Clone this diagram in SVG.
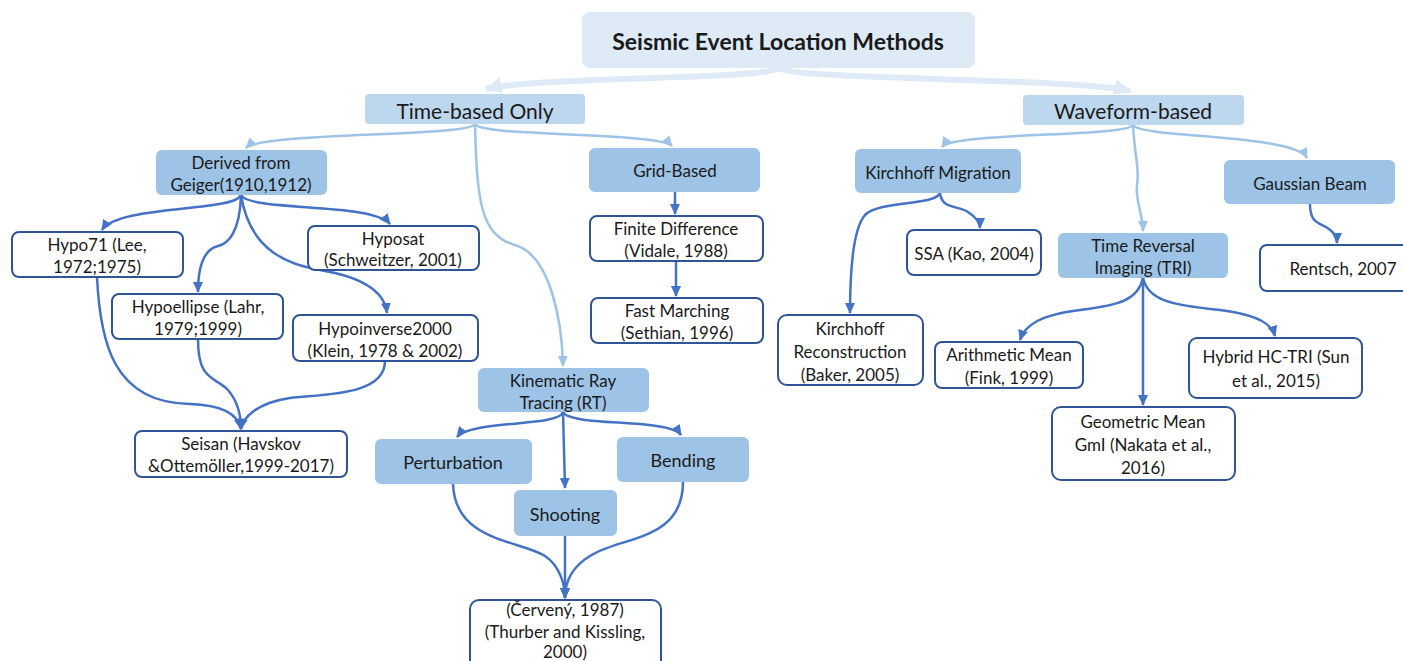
<svg xmlns="http://www.w3.org/2000/svg" width="1403" height="661" viewBox="0 0 1403 661">
<defs>
<style>
text{font-family:Lato,"Open Sans","Liberation Sans",sans-serif;fill:#1a1a1a;text-anchor:middle;dominant-baseline:central;font-size:17px}
.t1{font-size:23px;font-weight:bold}
.t2{font-size:21px}
.t3{font-size:18px}
.top{fill:#deebf7}
.l1{fill:#bdd7ee}
.l2{fill:#9dc3e6}
.w{fill:#fff;stroke:#2f5597;stroke-width:2}
.cd{fill:none;stroke:#4472c4;stroke-width:2.5;marker-end:url(#ad)}
.cl{fill:none;stroke:#9dc3e6;stroke-width:2.5;marker-end:url(#al)}
.ct{fill:none;stroke:#deebf7;stroke-width:6;marker-end:url(#at)}
</style>
<marker id="ad" markerUnits="userSpaceOnUse" markerWidth="12" markerHeight="12" viewBox="0 0 12 12" refX="10" refY="6" orient="auto"><path d="M0,1 L11,6 L0,11 z" fill="#4472c4"/></marker>
<marker id="al" markerUnits="userSpaceOnUse" markerWidth="12" markerHeight="12" viewBox="0 0 12 12" refX="10" refY="6" orient="auto"><path d="M0,1 L11,6 L0,11 z" fill="#9dc3e6"/></marker>
<marker id="at" markerUnits="userSpaceOnUse" markerWidth="20" markerHeight="20" viewBox="0 0 20 20" refX="16" refY="10" orient="auto"><path d="M0,2 L18,10 L0,18 z" fill="#deebf7"/></marker>
</defs>
<g id="connectors">
<path class="ct" d="M778,68 C770,80 540,76 486,89"/>
<path class="ct" d="M778,68 C790,80 1080,78 1130,91"/>
<path class="cl" d="M475,124 C470,137 262,132 246,148"/>
<path class="cl" d="M475,124 C480,137 660,132 672,146"/>
<path class="cl" d="M475,124 C477,200 480,235 515,245 C550,255 562,320 563,366"/>
<path class="cl" d="M1133,125 C1128,137 952,132 942,147"/>
<path class="cl" d="M1133,125 C1135,160 1140,170 1137,185 C1135,200 1143,215 1143,231"/>
<path class="cl" d="M1133,125 C1140,138 1295,134 1307,158"/>
<path class="cd" d="M241,195 C235,212 118,205 102,230"/>
<path class="cd" d="M241,195 C250,212 372,202 390,224"/>
<path class="cd" d="M241,195 C240,232 228,244 218,246 C202,250 198,270 198,292"/>
<path class="cd" d="M241,195 C250,252 290,265 320,270 C368,278 385,295 387,313"/>
<path class="cd" d="M97,277 C100,340 112,403 190,404 C225,405 238,415 241,429"/>
<path class="cd" d="M198,339 C198,382 215,376 228,390 C239,403 241,418 241,429"/>
<path class="cd" d="M385,361 C385,396 322,394 290,398 C256,403 243,418 241,429"/>
<path class="cd" d="M675,192 L675,214"/>
<path class="cd" d="M676,261 L676,296"/>
<path class="cd" d="M563,412 C560,427 470,420 457,437"/>
<path class="cd" d="M563,412 C570,427 670,418 681,435"/>
<path class="cd" d="M563,412 L565,488"/>
<path class="cd" d="M453,484 C455,542 520,540 545,556 C560,566 565,585 565,598"/>
<path class="cd" d="M565,536 L565,598"/>
<path class="cd" d="M683,482 C683,542 620,536 590,556 C570,568 565,585 565,598"/>
<path class="cd" d="M940,193 C942,210 958,205 968,212 C977,218 980,224 980,228"/>
<path class="cd" d="M940,193 C935,206 880,200 865,215 C852,230 850,280 850,313"/>
<path class="cd" d="M1143,278 C1138,300 1120,305 1080,310 C1040,315 1025,325 1020,340"/>
<path class="cd" d="M1143,278 L1143,405"/>
<path class="cd" d="M1143,278 C1148,300 1170,305 1220,310 C1260,315 1272,325 1275,336"/>
<path class="cd" d="M1310,204 C1310,220 1316,222 1324,226 C1334,231 1337,237 1337,243"/>
</g>
<g id="n-title"><rect class="top" x="582" y="12" width="393" height="56" rx="8"/><text class="t1" x="778" y="41">Seismic Event Location Methods</text></g>
<g id="n-time"><rect class="l1" x="365" y="94" width="220" height="30" rx="4"/><text class="t2" x="475" y="110">Time-based Only</text></g>
<g id="n-wave"><rect class="l1" x="1023" y="95" width="221" height="30" rx="4"/><text class="t2" x="1133" y="110">Waveform-based</text></g>
<g id="n-derived"><rect class="l2" x="156" y="150" width="171" height="45" rx="6"/><text x="241" y="162">Derived from</text><text x="241" y="184">Geiger(1910,1912)</text></g>
<g id="n-grid"><rect class="l2" x="589" y="148" width="171" height="44" rx="6"/><text x="675" y="170">Grid-Based</text></g>
<g id="n-krt"><rect class="l2" x="478" y="368" width="171" height="44" rx="6"/><text x="563" y="380">Kinematic Ray</text><text x="563" y="402">Tracing (RT)</text></g>
<g id="n-km"><rect class="l2" x="855" y="149" width="166" height="44" rx="6"/><text x="938" y="172">Kirchhoff Migration</text></g>
<g id="n-tri"><rect class="l2" x="1058" y="233" width="170" height="45" rx="6"/><text x="1143" y="245">Time Reversal</text><text x="1143" y="267">Imaging (TRI)</text></g>
<g id="n-gauss"><rect class="l2" x="1224" y="160" width="171" height="44" rx="6"/><text x="1310" y="183">Gaussian Beam</text></g>
<g id="n-hypo71"><rect class="w" x="12" y="232" width="171" height="45" rx="7"/><text x="97" y="244">Hypo71 (Lee,</text><text x="97" y="266">1972;1975)</text></g>
<g id="n-hyposat"><rect class="w" x="308" y="226" width="171" height="44" rx="7"/><text x="393" y="238">Hyposat</text><text x="393" y="259">(Schweitzer, 2001)</text></g>
<g id="n-hypoellipse"><rect class="w" x="112" y="294" width="171" height="45" rx="7"/><text x="198" y="306">Hypoellipse (Lahr,</text><text x="198" y="328">1979;1999)</text></g>
<g id="n-hypoinverse"><rect class="w" x="293" y="315" width="185" height="46" rx="7"/><text x="385" y="328">Hypoinverse2000</text><text x="385" y="350">(Klein, 1978 &amp; 2002)</text></g>
<g id="n-seisan"><rect class="w" x="135" y="431" width="212" height="46" rx="7"/><text x="241" y="443">Seisan (Havskov</text><text x="241" y="465">&amp;Ottemöller,1999-2017)</text></g>
<g id="n-fd"><rect class="w" x="590" y="216" width="173" height="45" rx="7"/><text x="676" y="228">Finite Difference</text><text x="676" y="250">(Vidale, 1988)</text></g>
<g id="n-fm"><rect class="w" x="591" y="298" width="172" height="45" rx="7"/><text x="677" y="310">Fast Marching</text><text x="677" y="332">(Sethian, 1996)</text></g>
<g id="n-pert"><rect class="l2" x="375" y="439" width="157" height="45" rx="6"/><text class="t3" x="453" y="462">Perturbation</text></g>
<g id="n-bend"><rect class="l2" x="617" y="437" width="132" height="45" rx="6"/><text class="t3" x="683" y="460">Bending</text></g>
<g id="n-shoot"><rect class="l2" x="514" y="490" width="103" height="46" rx="6"/><text class="t3" x="565" y="514">Shooting</text></g>
<g id="n-cerveny"><rect class="w" x="470" y="600" width="191" height="80" rx="9"/><text x="565" y="609">(Červený, 1987)</text><text x="565" y="631">(Thurber and Kissling,</text><text x="565" y="651">2000)</text></g>
<g id="n-ssa"><rect class="w" x="907" y="230" width="134" height="45" rx="7"/><text x="974" y="253">SSA (Kao, 2004)</text></g>
<g id="n-kr"><rect class="w" x="778" y="315" width="145" height="70" rx="9"/><text x="850" y="328">Kirchhoff</text><text x="850" y="351">Reconstruction</text><text x="850" y="374">(Baker, 2005)</text></g>
<g id="n-rentsch"><rect class="w" x="1260" y="245" width="160" height="46" rx="7"/><text x="1343" y="268">Rentsch, 2007</text></g>
<g id="n-arith"><rect class="w" x="935" y="342" width="148" height="46" rx="7"/><text x="1009" y="354">Arithmetic Mean</text><text x="1009" y="377">(Fink, 1999)</text></g>
<g id="n-hybrid"><rect class="w" x="1189" y="338" width="173" height="60" rx="8"/><text x="1276" y="356">Hybrid HC-TRI (Sun</text><text x="1276" y="380">et al., 2015)</text></g>
<g id="n-geo"><rect class="w" x="1052" y="407" width="183" height="73" rx="9"/><text x="1143" y="421">Geometric Mean</text><text x="1143" y="444">GmI (Nakata et al.,</text><text x="1143" y="467">2016)</text></g>
</svg>
